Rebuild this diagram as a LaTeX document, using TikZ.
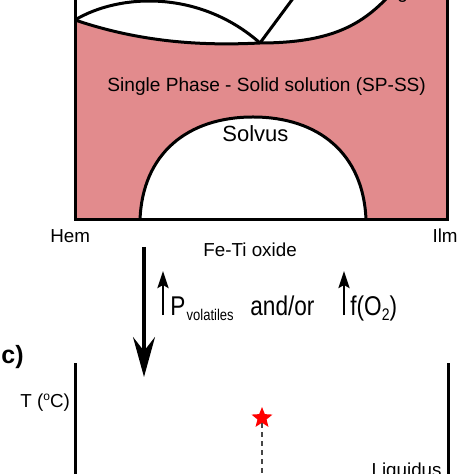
\documentclass[tikz,border=0pt]{standalone}
\usepackage{graphicx}
\usepackage{fontspec}
\setmainfont{Liberation Sans}
\usetikzlibrary{arrows.meta,shapes.geometric,positioning}
\definecolor{sspink}{RGB}{226,139,141}
\definecolor{dashgray}{RGB}{70,70,70}

\begin{document}
\begin{tikzpicture}[x=0.5pt,y=-0.5pt,%
        txt/.style={inner sep=0pt,anchor=base west},
        bd/.style={line width=1.5pt},
        bigarr/.style={-{Stealth[length=20pt,width=11pt,inset=7pt]},line width=1.6pt},
        uparr/.style={-{Stealth[length=8.5pt,width=5.5pt,inset=1.5pt]},line width=1.4pt}]

      \useasboundingbox (0,0) rectangle (474,474);
      \clip (0,0) rectangle (474,474);

      \fill[sspink] (75,-20) rectangle (447,220);
      \fill[white] (75,-20) -- (75,20) .. controls (140,42) and (200,46) .. (260,43)
            .. controls (330,43) and (360,25) .. (385,0) -- (405,-20) -- cycle;

      \draw[bd] (75,20) .. controls (140,42) and (200,46) .. (260,43)
            .. controls (330,43) and (360,25) .. (385,0) -- (405,-20);
      \draw[bd] (75,20) .. controls (120,-7) and (200,-10) .. (260,43);
      \draw[bd] (260,43) -- (300,-11);
      \draw[bd,fill=white] (140,220) to[out=88,in=180,looseness=1.1] (253,117)
            to[out=0,in=92,looseness=1.1] (366,220);
      \draw[bd] (75,-20) -- (75,220) -- (449,220);
      \draw[bd] (447,-20) -- (447,220);

      \node[txt,font=\fontsize{9.5}{11}\selectfont]  (gcut) at (397,-1)  {g};
      \node[txt,font=\fontsize{9.55}{11}\selectfont] (spss) at (107,92)  {Single Phase - Solid solution (SP-SS)};
      \node[txt,font=\fontsize{11}{13}\selectfont]   (solv) at (222,142) {Solvus};
      \node[txt,font=\fontsize{9.4}{11}\selectfont]  (hem)  at (50,243)  {Hem};
      \node[txt,font=\fontsize{9.4}{11}\selectfont,anchor=base east] (ilm) at (458,243) {Ilm};
      \node[txt,font=\fontsize{9.4}{11}\selectfont]  (feti) at (203,257) {Fe-Ti oxide};

      \coordinate (down0) at (144,247);
      \coordinate (down1) at (144,377);
      \coordinate (pup0)  at (163,315);
      \coordinate (pup1)  at (163,271);
      \coordinate (fup0)  at (344,315);
      \coordinate (fup1)  at (344,271);

      \draw[bigarr] (down0) -- (down1);
      \draw[uparr]  (pup0)  -- (pup1);
      \draw[uparr]  (fup0)  -- (fup1);

      \node[txt,font=\fontsize{11.3}{13}\selectfont] (pvol) at (170,315)
            {\scalebox{1}[1.2]{P\hspace{0.6pt}\raisebox{-2.3pt}{\fontsize{6.5}{7}\selectfont volatiles}}};
      \node[txt,font=\fontsize{11.3}{13}\selectfont] (andor) at (250,315) {\scalebox{1}[1.2]{and/or}};
      \node[txt,font=\fontsize{11.3}{13}\selectfont] (fo2) at (350,315)
            {\scalebox{1}[1.2]{f(O\raisebox{-2.3pt}{\fontsize{7}{8}\selectfont 2})}};

      \node[txt,font=\bfseries\fontsize{12.5}{14}\selectfont] (clbl) at (1,363) {c)};
      \node[txt,font=\fontsize{9.4}{11}\selectfont] (tlbl) at (20,407)
            {T (\raisebox{3.2pt}{\fontsize{6}{7}\selectfont o}C)};

      \coordinate (taxl0) at (75,363);
      \coordinate (taxl1) at (75,480);
      \coordinate (taxr0) at (448,363);
      \coordinate (taxr1) at (448,480);
      \draw[bd] (taxl0) -- (taxl1);
      \draw[bd] (taxr0) -- (taxr1);

      \node[star,star points=5,star point ratio=2.3,fill=red,inner sep=0pt,
            minimum size=11pt] (star) at (262,418) {};
      \coordinate (dashend) at (262,480);
      \draw[dashgray,line width=0.8pt,dash pattern=on 2.5pt off 2pt] (star) -- (dashend);

      \node[txt,font=\fontsize{9.4}{11}\selectfont,anchor=base east] (liq) at (442,476) {Liquidus};

    \end{tikzpicture}
\end{document}
